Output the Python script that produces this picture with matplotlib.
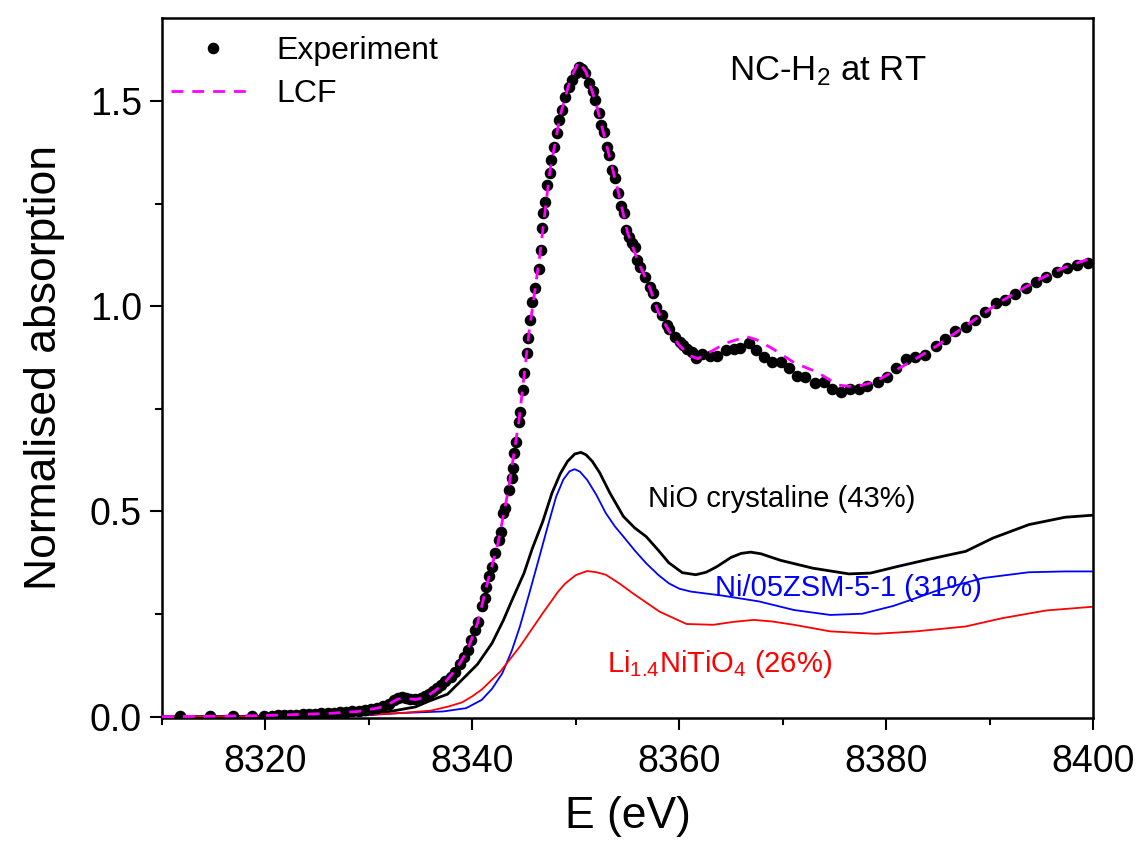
import matplotlib
matplotlib.use('Agg')
import matplotlib.pyplot as plt
from matplotlib.lines import Line2D
from matplotlib.ticker import MultipleLocator, FormatStrFormatter

exp_e = [8311.7, 8314.6, 8316.9, 8318.7, 8319.9, 8320.6, 8321.2, 8321.8, 8322.4, 8323.0,
         8323.6, 8324.2, 8324.8, 8325.4, 8326.0, 8326.6, 8327.2, 8327.8, 8328.4, 8329.0,
         8329.6, 8330.2, 8330.8, 8331.4, 8331.9, 8332.4, 8332.8, 8333.2, 8333.6, 8334.0,
         8334.5, 8335.0, 8335.4, 8335.8, 8336.2, 8336.6, 8337.0, 8337.4, 8337.9, 8338.3,
         8338.8, 8339.2, 8339.6, 8339.9, 8340.3, 8340.5, 8340.9, 8341.2, 8341.3, 8341.6,
         8341.9, 8342.2, 8342.6, 8342.8, 8343.0, 8343.2, 8343.5, 8343.8, 8343.9, 8344.0,
         8344.2, 8344.5, 8344.6, 8344.9, 8345.0, 8345.3, 8345.4, 8345.6, 8345.8, 8346.1,
         8346.4, 8346.6, 8346.7, 8346.8, 8347.0, 8347.2, 8347.5, 8347.6, 8347.9, 8348.2,
         8348.4, 8348.7, 8349.0, 8349.3, 8349.6, 8350.0, 8350.3, 8350.6, 8350.9, 8351.3,
         8351.7, 8351.9, 8352.2, 8352.4, 8352.7, 8353.0, 8353.2, 8353.5, 8353.8, 8354.1,
         8354.4, 8354.7, 8354.9, 8355.1, 8355.4, 8355.7, 8355.9, 8356.2, 8356.7, 8357.2,
         8357.5, 8357.8, 8358.3, 8358.8, 8359.0, 8359.6, 8360.1, 8360.4, 8360.8, 8361.2,
         8361.6, 8362.2, 8363.0, 8363.7, 8364.5, 8365.3, 8365.9, 8366.7, 8367.4, 8368.2,
         8369.0, 8369.8, 8370.6, 8371.4, 8372.2, 8373.1, 8374.0, 8374.8, 8375.6, 8376.5,
         8377.4, 8378.2, 8379.2, 8380.1, 8381.0, 8381.9, 8382.8, 8383.8, 8384.8, 8385.7,
         8386.7, 8387.7, 8388.6, 8389.6, 8390.6, 8391.5, 8392.5, 8393.5, 8394.5, 8395.5,
         8396.5, 8397.5, 8398.5, 8399.5]
exp_mu = [0.001, 0.001, 0.001, 0.002, 0.002, 0.003, 0.004, 0.004, 0.005, 0.005,
          0.006, 0.006, 0.007, 0.008, 0.009, 0.010, 0.011, 0.012, 0.013, 0.014,
          0.016, 0.018, 0.022, 0.026, 0.032, 0.040, 0.046, 0.048, 0.045, 0.043,
          0.043, 0.046, 0.050, 0.056, 0.062, 0.070, 0.078, 0.086, 0.098, 0.110,
          0.128, 0.145, 0.163, 0.187, 0.212, 0.232, 0.269, 0.289, 0.317, 0.342,
          0.366, 0.399, 0.431, 0.451, 0.496, 0.508, 0.553, 0.581, 0.605, 0.642,
          0.670, 0.719, 0.743, 0.796, 0.837, 0.886, 0.922, 0.967, 1.011, 1.045,
          1.090, 1.137, 1.190, 1.226, 1.255, 1.295, 1.324, 1.356, 1.389, 1.421,
          1.454, 1.478, 1.510, 1.535, 1.551, 1.567, 1.583, 1.578, 1.567, 1.543,
          1.523, 1.502, 1.470, 1.441, 1.425, 1.389, 1.368, 1.332, 1.312, 1.275,
          1.243, 1.226, 1.186, 1.169, 1.155, 1.145, 1.113, 1.096, 1.072, 1.048,
          1.032, 0.999, 0.978, 0.955, 0.945, 0.926, 0.914, 0.906, 0.895, 0.889,
          0.874, 0.883, 0.879, 0.879, 0.894, 0.896, 0.899, 0.911, 0.894, 0.876,
          0.865, 0.863, 0.849, 0.830, 0.828, 0.812, 0.816, 0.798, 0.792, 0.798,
          0.798, 0.806, 0.816, 0.827, 0.849, 0.871, 0.876, 0.881, 0.902, 0.920,
          0.940, 0.950, 0.967, 0.987, 1.007, 1.015, 1.030, 1.045, 1.058, 1.072,
          1.083, 1.092, 1.100, 1.105]

# Linear combination fit
lcf_e = [8310.0, 8320.0, 8326.0, 8329.0, 8331.0, 8332.0, 8332.8, 8333.5, 8334.5, 8335.5,
         8336.5, 8337.5, 8338.5, 8339.5, 8340.5, 8341.5, 8342.5, 8343.5, 8344.5, 8345.5,
         8346.5, 8347.5, 8348.5, 8349.5, 8350.3, 8351.0, 8352.0, 8353.0, 8354.0, 8355.0,
         8356.0, 8357.0, 8358.0, 8359.0, 8360.0, 8361.0, 8361.8, 8362.8, 8364.5, 8366.5,
         8367.5, 8369.0, 8371.2, 8373.2, 8375.4, 8377.0, 8378.9, 8381.0, 8383.0, 8385.0,
         8387.0, 8389.0, 8391.0, 8393.0, 8395.0, 8397.0, 8399.0, 8400.0]
lcf_mu = [0.000, 0.003, 0.008, 0.013, 0.022, 0.032, 0.043, 0.045, 0.042, 0.048,
          0.065, 0.088, 0.118, 0.160, 0.228, 0.330, 0.425, 0.555, 0.720, 0.940,
          1.120, 1.330, 1.465, 1.555, 1.596, 1.570, 1.490, 1.390, 1.290, 1.180,
          1.110, 1.055, 0.985, 0.940, 0.905, 0.880, 0.872, 0.886, 0.910, 0.926,
          0.918, 0.897, 0.861, 0.841, 0.808, 0.803, 0.816, 0.845, 0.874, 0.905,
          0.940, 0.975, 1.010, 1.040, 1.068, 1.092, 1.110, 1.118]

# Weighted reference spectra
nio_e = [8310.0, 8320.0, 8325.0, 8330.0, 8332.5, 8334.5, 8335.8, 8337.6, 8339.0, 8340.5,
         8341.9, 8343.0, 8343.8, 8345.0, 8345.8, 8346.8, 8347.7, 8348.5, 8349.2, 8349.9,
         8350.5, 8351.0, 8351.6, 8352.3, 8353.3, 8354.6, 8355.7, 8356.8, 8358.0, 8359.0,
         8360.3, 8361.6, 8362.6, 8363.6, 8365.0, 8366.0, 8366.9, 8367.9, 8369.8, 8372.9,
         8376.4, 8378.5, 8381.1, 8384.2, 8387.7, 8390.3, 8393.8, 8397.3, 8400.0]
nio_mu = [0.000, 0.001, 0.002, 0.005, 0.015, 0.024, 0.038, 0.055, 0.090, 0.128,
          0.179, 0.235, 0.282, 0.350, 0.410, 0.475, 0.545, 0.592, 0.622, 0.640,
          0.644, 0.638, 0.622, 0.595, 0.545, 0.488, 0.460, 0.439, 0.405, 0.375,
          0.351, 0.346, 0.352, 0.365, 0.388, 0.398, 0.401, 0.397, 0.381, 0.362,
          0.348, 0.350, 0.366, 0.384, 0.403, 0.435, 0.468, 0.486, 0.491]

zsm_e = [8310.0, 8320.0, 8330.0, 8333.0, 8337.2, 8339.4, 8340.9, 8341.9, 8342.9, 8343.8,
         8344.6, 8345.5, 8346.4, 8347.3, 8348.1, 8348.8, 8349.4, 8349.9, 8350.4, 8351.1,
         8352.0, 8352.9, 8353.8, 8354.6, 8355.7, 8356.8, 8358.0, 8359.0, 8360.0, 8361.1,
         8364.2, 8367.7, 8371.1, 8374.6, 8377.7, 8380.7, 8383.0, 8385.1, 8389.4, 8393.8,
         8397.3, 8400.0]
zsm_mu = [0.000, 0.001, 0.004, 0.009, 0.013, 0.021, 0.041, 0.068, 0.106, 0.160,
          0.220, 0.300, 0.382, 0.465, 0.536, 0.578, 0.598, 0.603, 0.597, 0.577,
          0.540, 0.496, 0.463, 0.439, 0.405, 0.374, 0.345, 0.325, 0.312, 0.305,
          0.295, 0.281, 0.260, 0.248, 0.251, 0.270, 0.290, 0.309, 0.338, 0.352,
          0.354, 0.354]

li_e = [8310.0, 8320.0, 8330.0, 8333.0, 8336.0, 8337.7, 8339.0, 8340.0, 8340.9, 8341.8,
        8342.7, 8344.6, 8346.8, 8348.3, 8349.0, 8350.0, 8351.1, 8352.0, 8352.9, 8354.2,
        8355.5, 8358.1, 8360.7, 8363.3, 8365.2, 8367.2, 8369.0, 8371.1, 8374.6, 8379.0,
        8382.9, 8387.7, 8391.2, 8395.5, 8400.0]
li_mu = [0.000, 0.001, 0.005, 0.009, 0.015, 0.025, 0.035, 0.050, 0.066, 0.088,
         0.110, 0.171, 0.252, 0.305, 0.325, 0.345, 0.355, 0.352, 0.346, 0.325,
         0.301, 0.256, 0.226, 0.224, 0.231, 0.236, 0.232, 0.224, 0.208, 0.202,
         0.208, 0.220, 0.240, 0.259, 0.268]

plt.rcParams['font.family'] = ['Liberation Sans', 'DejaVu Sans']
plt.rcParams['mathtext.fontset'] = 'custom'
plt.rcParams['mathtext.rm'] = 'Liberation Sans'
plt.rcParams['mathtext.it'] = 'Liberation Sans:italic'
plt.rcParams['lines.scale_dashes'] = False

fig = plt.figure(figsize=(11.4, 8.5), dpi=100)
ax = fig.add_axes([162 / 1140, 1 - 718 / 850, 931 / 1140, 700 / 850])

ax.plot(exp_e, exp_mu, 'o', color='black', ms=7.3, zorder=3)
ax.plot(lcf_e, lcf_mu, color='#ff00ff', lw=2.0, dashes=(8.5, 6.5), zorder=4)
ax.plot(nio_e, nio_mu, color='black', lw=2.0, zorder=2)
ax.plot(zsm_e, zsm_mu, color='#0000ff', lw=1.3, zorder=2)
ax.plot(li_e, li_mu, color='#ff0000', lw=1.3, zorder=2)

ax.set_xlim(8310, 8400)
ax.set_ylim(-0.003, 1.702)
ax.xaxis.set_major_locator(MultipleLocator(20))
ax.xaxis.set_minor_locator(MultipleLocator(10))
ax.yaxis.set_major_locator(MultipleLocator(0.5))
ax.yaxis.set_minor_locator(MultipleLocator(0.25))
ax.yaxis.set_major_formatter(FormatStrFormatter('%.1f'))
ax.tick_params(which='major', direction='out', length=8.5, width=1.5, labelsize=27)
ax.tick_params(axis='x', which='major', pad=10)
ax.tick_params(axis='y', which='major', pad=6)
ax.tick_params(which='minor', direction='out', length=5, width=1.5)
for s in ax.spines.values():
    s.set_linewidth(1.8)

ax.set_xlabel('E (eV)', fontsize=32, labelpad=12)
ax.set_ylabel('Normalised absorption', fontsize=32, labelpad=18)

# Annotations
ax.text(0.609, 0.911, r'NC-H$_\mathrm{2}$ at RT', transform=ax.transAxes,
        fontsize=25, va='baseline')
ax.text(8357.0, 0.512, 'NiO crystaline (43%)', fontsize=21, color='black')
ax.text(8363.5, 0.293, 'Ni/05ZSM-5-1 (31%)', fontsize=21, color='#0000ff')
ax.text(8353.0, 0.108, r'Li$_\mathrm{1.4}$NiTiO$_\mathrm{4}$ (26%)', fontsize=21,
        color='#ff0000')

handles = [Line2D([], [], ls='none', marker='o', color='black', ms=7.3),
           Line2D([], [], color='#ff00ff', lw=2.0, dashes=(8.5, 6.5))]
ax.legend(handles, ['Experiment', 'LCF'], loc='upper left', frameon=False,
          fontsize=23, bbox_to_anchor=(0.01, 0.974), borderaxespad=0, borderpad=0,
          handlelength=2.6, handletextpad=0.7, labelspacing=0.4)

fig.savefig('out.png', dpi=100)
